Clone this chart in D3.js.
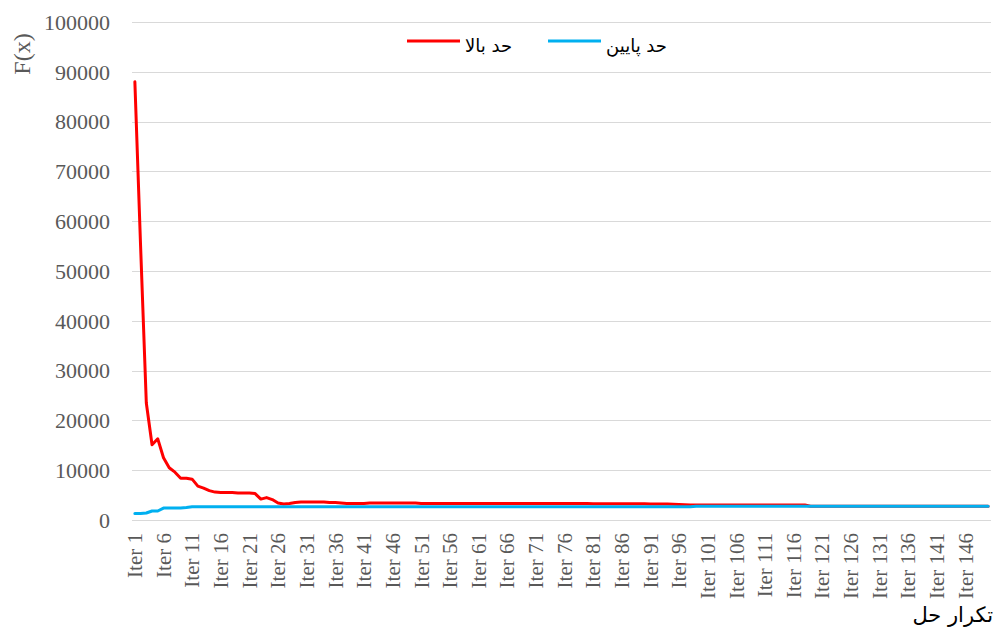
<!DOCTYPE html>
<html>
<head>
<meta charset="utf-8">
<script src="https://cdn.jsdelivr.net/npm/d3@7"></script>
<style>
  body { margin: 0; background: #fff; }
  svg { display: block; }
</style>
</head>
<body>
<div id="chart"></div>
<script>
// upper bound (red) per iteration
var upper = [
  88000, 55000, 23500, 15100, 16300, 12500, 10500, 9600, 8400, 8400,
  8200, 6800, 6400, 5900, 5600, 5500, 5500, 5500, 5400, 5400,
  5400, 5300, 4200, 4500, 4100, 3400, 3200, 3300, 3500, 3600,
  3600, 3600, 3600, 3600, 3500, 3500, 3400, 3300, 3300, 3300,
  3300, 3400, 3400, 3400, 3400, 3400, 3400, 3400, 3400, 3400,
  3300, 3300, 3300, 3300, 3300, 3300, 3300, 3300, 3300, 3300,
  3300, 3300, 3300, 3300, 3300, 3300, 3300, 3300, 3300, 3300,
  3300, 3300, 3300, 3300, 3300, 3300, 3300, 3300, 3300, 3300,
  3250, 3250, 3250, 3250, 3250, 3250, 3250, 3250, 3250, 3250,
  3200, 3200, 3200, 3200, 3150, 3100, 3050, 3000, 3000, 3000,
  3000, 3000, 3000, 3000, 3000, 3000, 3000, 3000, 3000, 3000,
  3000, 3000, 3000, 3000, 3000, 3000, 3000, 3000, 2750, 2750,
  2750, 2750, 2750, 2750, 2750, 2750, 2750, 2750, 2750, 2750,
  2750, 2750, 2750, 2750, 2750, 2750, 2750, 2750, 2750, 2750,
  2750, 2750, 2750, 2750, 2750, 2750, 2750, 2750, 2750, 2750
];

// lower bound (blue) per iteration
var lower = [
  1300, 1300, 1400, 1800, 1800, 2400, 2400, 2400, 2400, 2500,
  2650, 2650, 2650, 2650, 2650, 2650, 2650, 2650, 2650, 2650,
  2650, 2650, 2650, 2650, 2650, 2650, 2650, 2650, 2650, 2650,
  2650, 2650, 2650, 2650, 2650, 2650, 2650, 2650, 2650, 2650,
  2650, 2650, 2650, 2650, 2650, 2650, 2650, 2650, 2650, 2650,
  2650, 2650, 2650, 2650, 2650, 2650, 2650, 2650, 2650, 2650,
  2650, 2650, 2650, 2650, 2650, 2650, 2650, 2650, 2650, 2650,
  2650, 2650, 2650, 2650, 2650, 2650, 2650, 2650, 2650, 2650,
  2650, 2650, 2650, 2650, 2650, 2650, 2650, 2650, 2650, 2650,
  2650, 2650, 2650, 2650, 2650, 2650, 2650, 2650, 2750, 2750,
  2750, 2750, 2750, 2750, 2750, 2750, 2750, 2750, 2750, 2750,
  2750, 2750, 2750, 2750, 2750, 2750, 2750, 2750, 2750, 2750,
  2750, 2750, 2750, 2750, 2750, 2750, 2750, 2750, 2750, 2750,
  2750, 2750, 2750, 2750, 2750, 2750, 2750, 2750, 2750, 2750,
  2750, 2750, 2750, 2750, 2750, 2750, 2750, 2750, 2750, 2750
];

var categories = upper.map(function(d, i) { return "Iter " + (i + 1); });
var yTicks = [0, 10000, 20000, 30000, 40000, 50000, 60000, 70000, 80000, 90000, 100000];
var seriesNames = ["حد بالا", "حد پایین"];
var seriesColors = ["#FF0000", "#00B0F0"];

var width = 996, height = 629;

var svg = d3.select("#chart").append("svg")
  .attr("width", width)
  .attr("height", height);

var x = d3.scaleBand()
  .domain(categories)
  .range([132, 991])
  .padding(0);

var y = d3.scaleLinear()
  .domain([0, 100000])
  .range([520, 22]);

function cx(d) { return x(d) + x.bandwidth() / 2; }

// gridlines
svg.append("g")
  .selectAll("line")
  .data(yTicks)
  .enter().append("line")
    .attr("x1", 132)
    .attr("x2", 991)
    .attr("y1", function(d) { return Math.round(y(d)) + 0.5; })
    .attr("y2", function(d) { return Math.round(y(d)) + 0.5; })
    .style("stroke", "#D9D9D9")
    .style("stroke-width", 1);

// y tick labels
svg.append("g")
  .selectAll("text")
  .data(yTicks)
  .enter().append("text")
    .attr("x", 110)
    .attr("y", function(d) { return y(d); })
    .attr("dy", "0.35em")
    .attr("text-anchor", "end")
    .style("font-family", "'Liberation Serif', 'Times New Roman', serif")
    .style("font-size", "22px")
    .style("fill", "#595959")
    .text(function(d) { return d; });

// x tick labels every 5th iteration
svg.append("g")
  .selectAll("text")
  .data(categories.filter(function(d, i) { return i % 5 === 0; }))
  .enter().append("text")
    .attr("transform", function(d) { return "translate(" + cx(d) + ",533) rotate(-90)"; })
    .attr("dy", "0.35em")
    .attr("text-anchor", "end")
    .style("font-family", "'Liberation Serif', 'Times New Roman', serif")
    .style("font-size", "21px")
    .style("fill", "#595959")
    .text(function(d) { return d; });

var line = d3.line()
  .x(function(d, i) { return cx(categories[i]); })
  .y(function(d) { return y(d); });

[upper, lower].forEach(function(s, k) {
  svg.append("path")
    .datum(s)
    .attr("d", line)
    .style("fill", "none")
    .style("stroke", seriesColors[k])
    .style("stroke-width", 3)
    .style("stroke-linejoin", "round")
    .style("stroke-linecap", "round");
});

// legend
var legendX = [407, 548];
var legend = svg.append("g")
  .selectAll("g")
  .data(seriesNames)
  .enter().append("g")
    .attr("transform", function(d, i) { return "translate(" + legendX[i] + ",41)"; });

legend.append("line")
  .attr("x1", 0)
  .attr("x2", 53)
  .style("stroke", function(d, i) { return seriesColors[i]; })
  .style("stroke-width", 3);

legend.append("text")
  .attr("x", 58)
  .attr("y", 11)
  .style("font-family", "'DejaVu Sans', sans-serif")
  .style("font-size", "18px")
  .style("fill", "#000")
  .text(function(d) { return d; });

// axis titles
svg.append("text")
  .attr("transform", "translate(22,54) rotate(-90)")
  .attr("dy", "0.35em")
  .attr("text-anchor", "middle")
  .style("font-family", "'Liberation Serif', 'Times New Roman', serif")
  .style("font-size", "24px")
  .style("fill", "#595959")
  .text("F(x)");

svg.append("text")
  .attr("x", 993)
  .attr("y", 622)
  .attr("text-anchor", "end")
  .style("font-family", "'DejaVu Sans', sans-serif")
  .style("font-size", "21px")
  .style("fill", "#000")
  .text("تکرار حل");
</script>
</body>
</html>
